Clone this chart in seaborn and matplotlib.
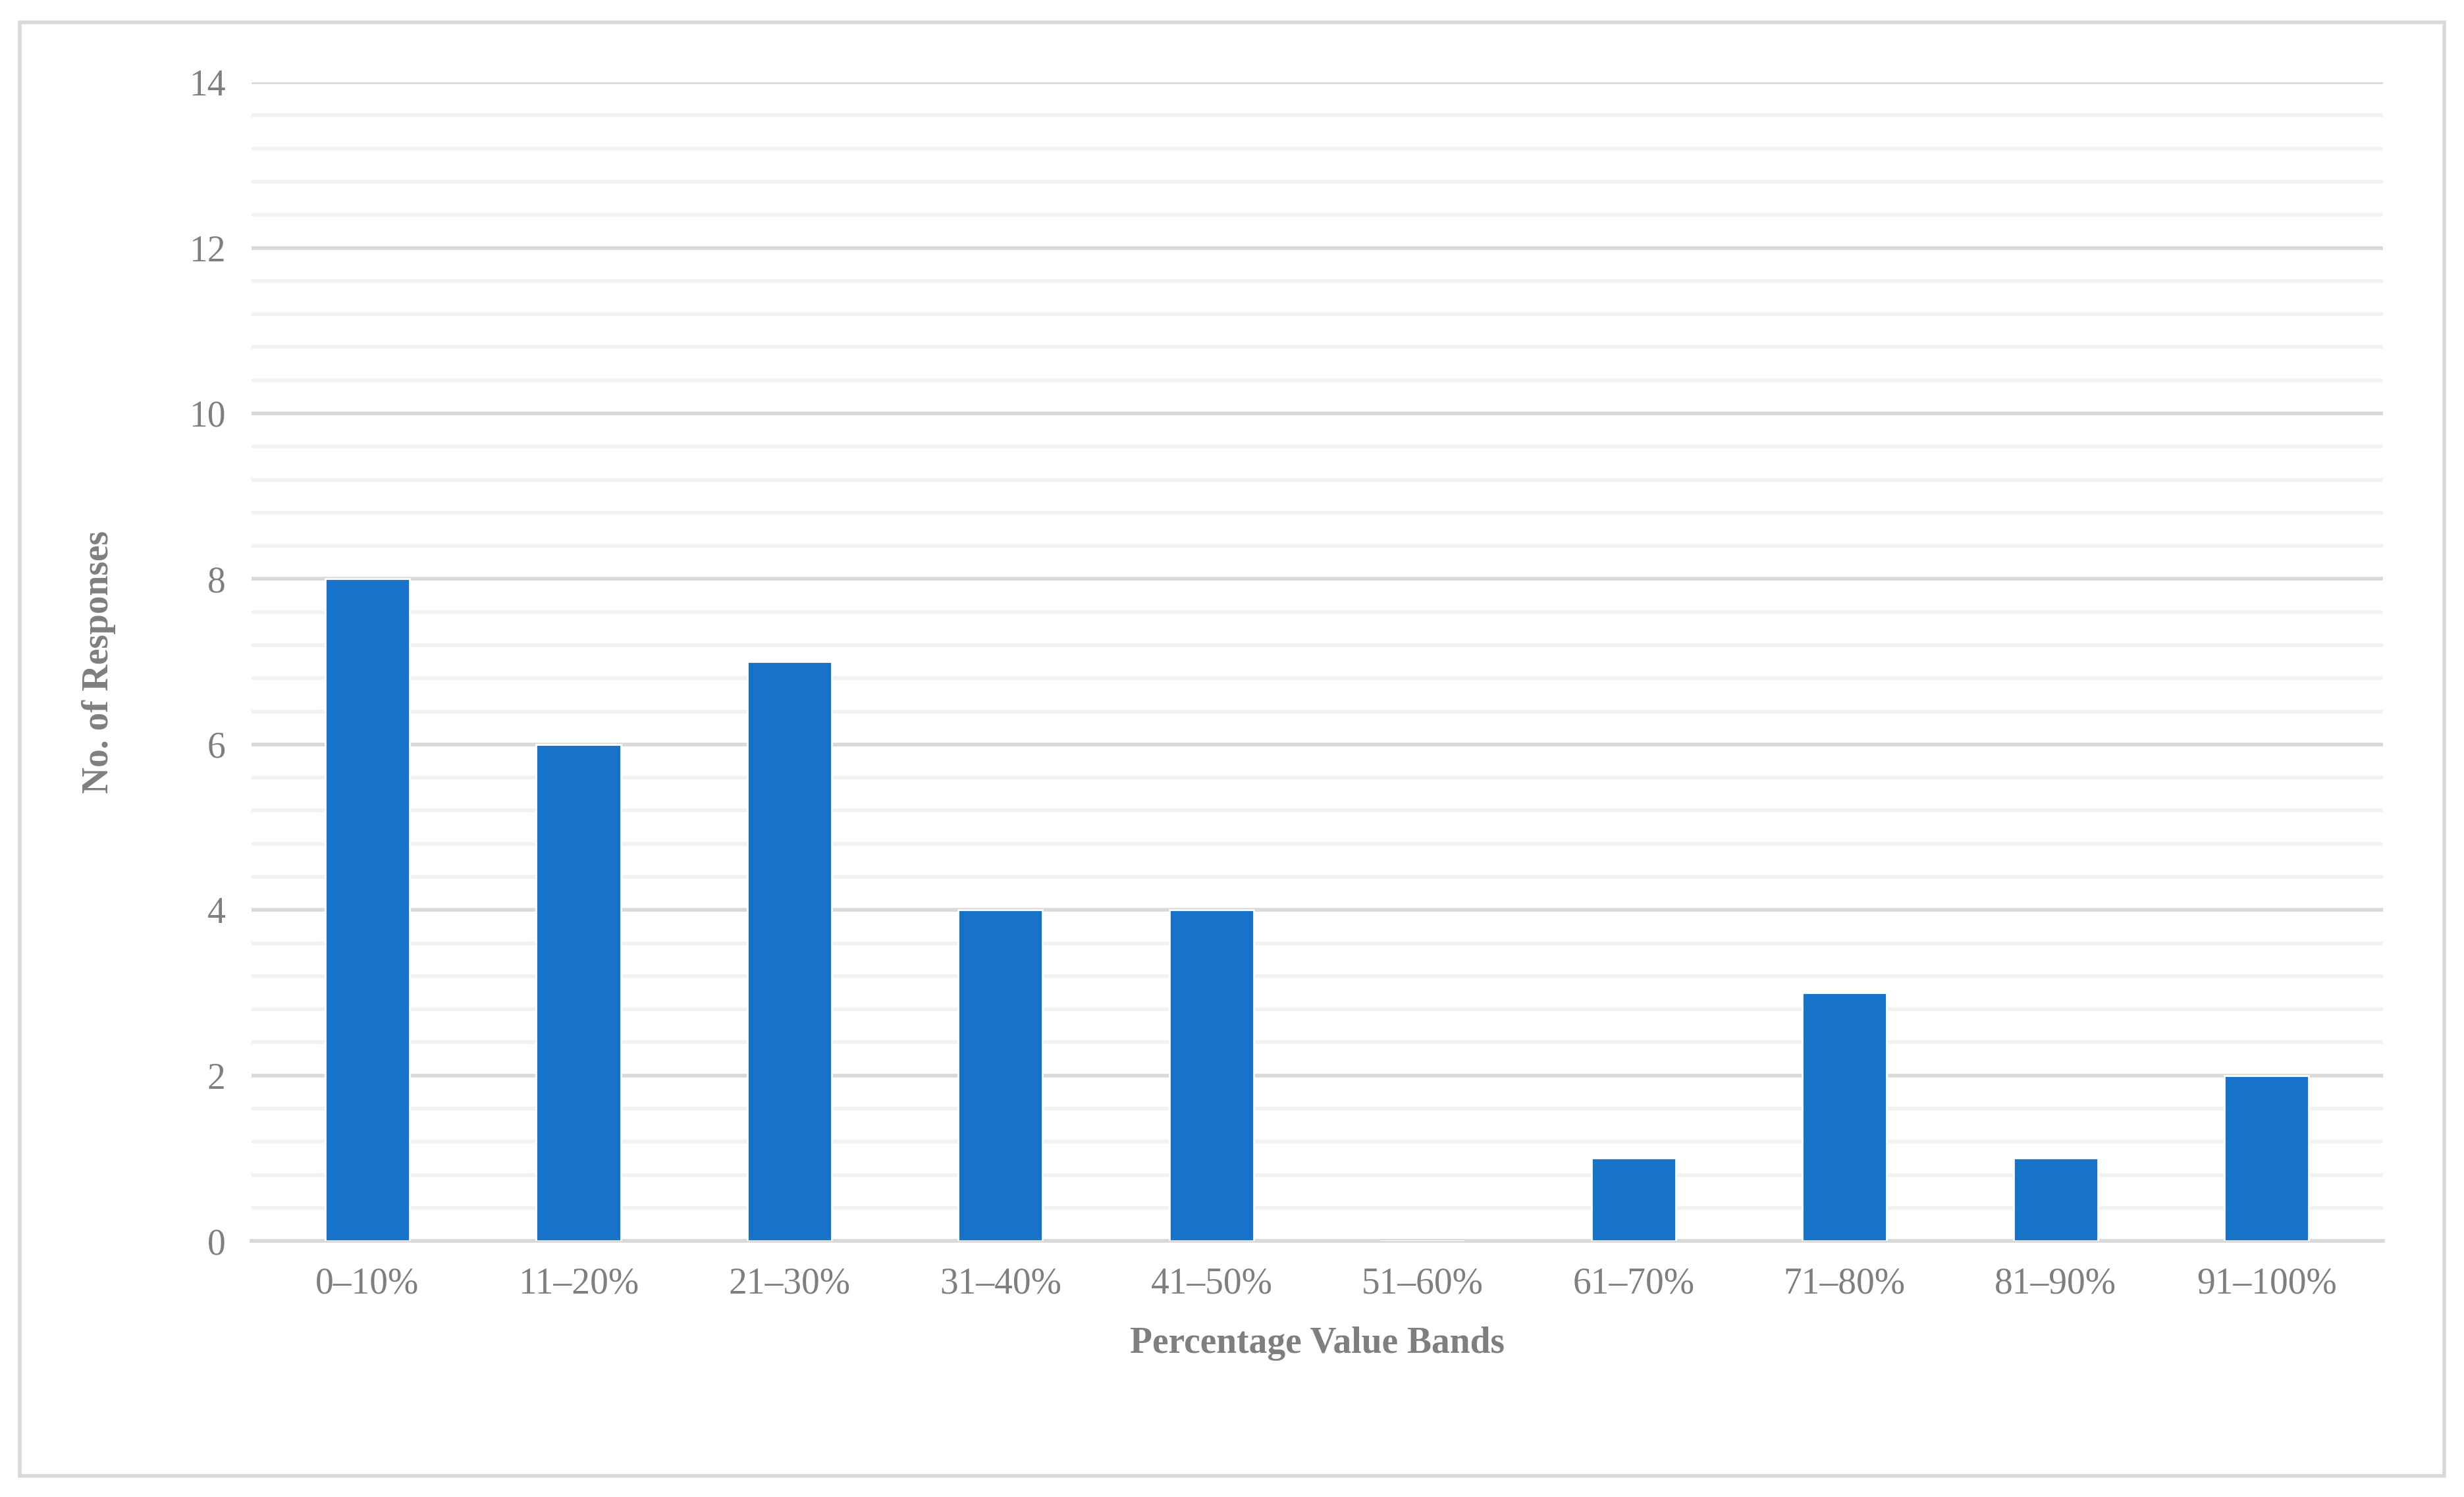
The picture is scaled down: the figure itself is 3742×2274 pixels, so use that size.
import matplotlib
matplotlib.use("Agg")
import matplotlib.pyplot as plt
import seaborn as sns
import pandas as pd
from matplotlib.patches import Rectangle

# Data
bands = ["0–10%", "11–20%", "21–30%", "31–40%", "41–50%",
         "51–60%", "61–70%", "71–80%", "81–90%", "91–100%"]
responses = [8, 6, 7, 4, 4, 0, 1, 3, 1, 2]

df = pd.DataFrame({"Band": bands, "Responses": responses})

sns.set_style("white")
plt.rcParams["font.family"] = ["Liberation Serif", "DejaVu Serif"]

fig = plt.figure(figsize=(18.71, 11.37), dpi=200)
ax = fig.add_axes([0.102, 0.171, 0.865, 0.774])

sns.barplot(data=df, x="Band", y="Responses", color="#1772C9",
            width=0.4, saturation=1, ax=ax, zorder=3)

ax.set_ylim(0, 14)
ax.set_yticks(range(0, 15, 2))
ax.set_yticks([i * 0.4 for i in range(36)], minor=True)
ax.grid(axis="y", which="major", color="#D9D9D9", linewidth=2, zorder=0)
ax.grid(axis="y", which="minor", color="#F2F2F2", linewidth=2, zorder=0)
ax.tick_params(axis="y", which="minor", length=0)
ax.tick_params(axis="both", which="major", length=0, labelsize=20,
               labelcolor="#7F7F7F", pad=14)
ax.set_xlim(-0.55, 9.55)
for s in ["top", "right", "left"]:
    ax.spines[s].set_visible(False)
ax.spines["bottom"].set_color("#D9D9D9")
ax.spines["bottom"].set_linewidth(2)

ax.set_xlabel("Percentage Value Bands", fontsize=20, fontweight="bold",
              color="#7F7F7F", labelpad=14)
ax.set_ylabel("No. of Responses", fontsize=20, fontweight="bold",
              color="#7F7F7F", labelpad=40)

fig.patches.append(Rectangle((0.008, 0.014), 0.984, 0.971, transform=fig.transFigure,
                             fill=False, edgecolor="#D9D9D9", linewidth=2))

fig.savefig("out.png", dpi=200)
